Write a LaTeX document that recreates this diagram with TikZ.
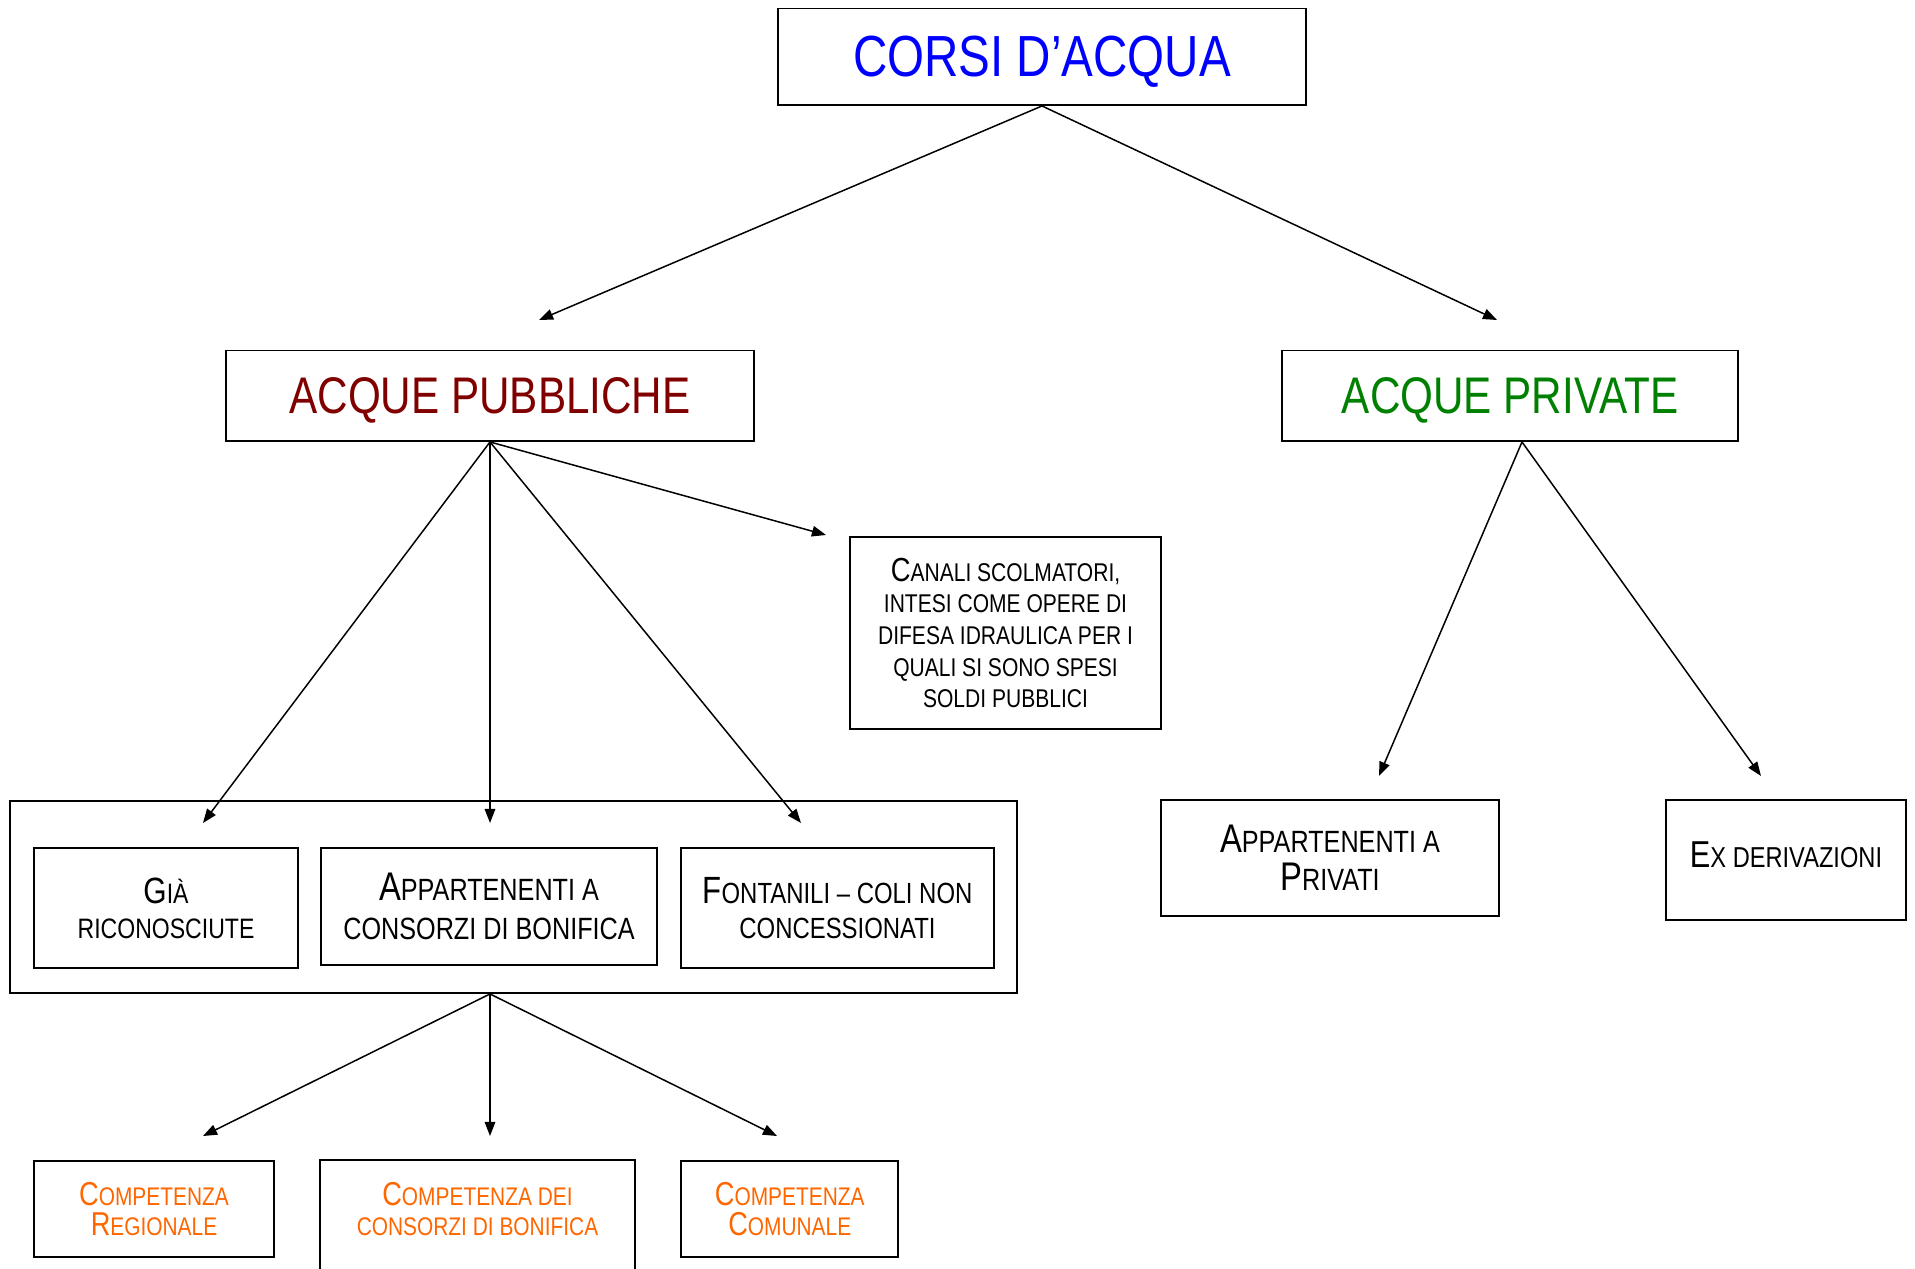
\documentclass[tikz,border=0pt]{standalone}
\usepackage{fontspec}
\setmainfont[FakeStretch=0.82]{Liberation Sans}
\usepackage{xcolor}
\usetikzlibrary{arrows.meta}

\definecolor{blu}{RGB}{0,0,255}
\definecolor{rossoscuro}{RGB}{128,0,0}
\definecolor{verde}{RGB}{0,128,0}
\definecolor{arancio}{RGB}{255,102,0}

\makeatletter
\newcommand{\ini}[1]{{\fontsize{\fpeval{1.3*\f@size}}{\f@baselineskip}\selectfont#1}}
\makeatother

\tikzset{
  casella/.style={draw,line width=1.1pt,inner sep=0pt,align=center},
  titolo/.style={casella,text depth=0pt,font=\fontsize{29.3}{35}\selectfont},
  freccia/.style={line width=0.85pt,-{Triangle[length=8pt,width=6pt]}}
}

\begin{document}
\begin{tikzpicture}
        \useasboundingbox (0,0) rectangle (38.3,-25.38);
        \node[titolo,minimum width=10.56cm,minimum height=1.93cm,text=blu,font=\fontsize{33}{40}\selectfont] (corsi) at (20.84,-1.135) {CORSI D’ACQUA};
        \node[titolo,minimum width=10.56cm,minimum height=1.81cm,text=rossoscuro] (pubbliche) at (9.80,-7.915) {ACQUE PUBBLICHE};
        \node[titolo,minimum width=9.12cm,minimum height=1.81cm,text=verde] (private) at (30.2,-7.915) {ACQUE PRIVATE};
        \node[casella,minimum width=6.22cm,minimum height=3.84cm,font=\fontsize{14.6}{18}\selectfont] (canali) at (20.11,-12.66) {\ini{C}ANALI SCOLMATORI,\\INTESI COME OPERE DI\\DIFESA IDRAULICA PER I\\QUALI SI SONO SPESI\\SOLDI PUBBLICI};
        \node[casella,minimum width=20.14cm,minimum height=3.84cm] (gruppo) at (10.27,-17.94) {};
        \node[casella,minimum width=5.28cm,minimum height=2.4cm,font=\fontsize{16}{20}\selectfont] (gia) at (3.32,-18.16) {\ini{G}IÀ\\RICONOSCIUTE};
        \node[casella,minimum width=6.72cm,minimum height=2.34cm,font=\fontsize{17.5}{22}\selectfont] (consorzi) at (9.78,-18.13) {\ini{A}PPARTENENTI A\\CONSORZI DI BONIFICA};
        \node[casella,minimum width=6.26cm,minimum height=2.4cm,font=\fontsize{16.6}{20}\selectfont] (fontanili) at (16.75,-18.16) {\ini{F}ONTANILI – COLI NON\\CONCESSIONATI};
        \node[casella,minimum width=6.76cm,minimum height=2.32cm,font=\fontsize{17.5}{21.5}\selectfont] (privati) at (26.6,-17.16) {\ini{A}PPARTENENTI A\\\ini{P}RIVATI};
        \node[casella,minimum width=4.8cm,minimum height=2.4cm,text depth=0.2cm,font=\fontsize{16.4}{20}\selectfont] (ex) at (35.72,-17.2) {\ini{E}X DERIVAZIONI};
        \node[casella,minimum width=4.8cm,minimum height=1.92cm,text=arancio,font=\fontsize{14.5}{17.3}\selectfont] (regionale) at (3.08,-24.18) {\ini{C}OMPETENZA\\\ini{R}EGIONALE};
        \node[casella,draw=none,minimum width=6.26cm,minimum height=1.92cm,text=arancio,font=\fontsize{14.5}{17.3}\selectfont] (bonifica) at (9.55,-24.18) {\ini{C}OMPETENZA DEI\\CONSORZI DI BONIFICA};
        \node[casella,minimum width=4.34cm,minimum height=1.92cm,text=arancio,font=\fontsize{14.5}{17.3}\selectfont] (comunale) at (15.795,-24.18) {\ini{C}OMPETENZA\\\ini{C}OMUNALE};
        \draw[line width=1.1pt] ([yshift=-1cm]bonifica.south west) -- (bonifica.north west) -- (bonifica.north east) -- ([yshift=-1cm]bonifica.south east);
        \coordinate (a1) at (10.78,-6.4);
        \coordinate (a2) at (29.94,-6.4);
        \coordinate (b1) at (4.06,-16.46);
        \coordinate (b2) at (9.80,-16.46);
        \coordinate (b3) at (16.02,-16.46);
        \coordinate (b4) at (16.52,-10.7);
        \coordinate (c1) at (27.58,-15.52);
        \coordinate (c2) at (35.22,-15.52);
        \coordinate (d1) at (4.06,-22.72);
        \coordinate (d2) at (9.80,-22.72);
        \coordinate (d3) at (15.54,-22.72);
        \draw[freccia] (corsi.south) -- (a1);
        \draw[freccia] (corsi.south) -- (a2);
        \draw[freccia] (pubbliche.south) -- (b1);
        \draw[freccia] (pubbliche.south) -- (b2);
        \draw[freccia] (pubbliche.south) -- (b3);
        \draw[freccia] (pubbliche.south) -- (b4);
        \draw[freccia] ([xshift=2.4mm]private.south) -- (c1);
        \draw[freccia] ([xshift=2.4mm]private.south) -- (c2);
        \draw[freccia] (pubbliche.south |- gruppo.south) -- (d1);
        \draw[freccia] (pubbliche.south |- gruppo.south) -- (d2);
        \draw[freccia] (pubbliche.south |- gruppo.south) -- (d3);
\end{tikzpicture}
\end{document}
